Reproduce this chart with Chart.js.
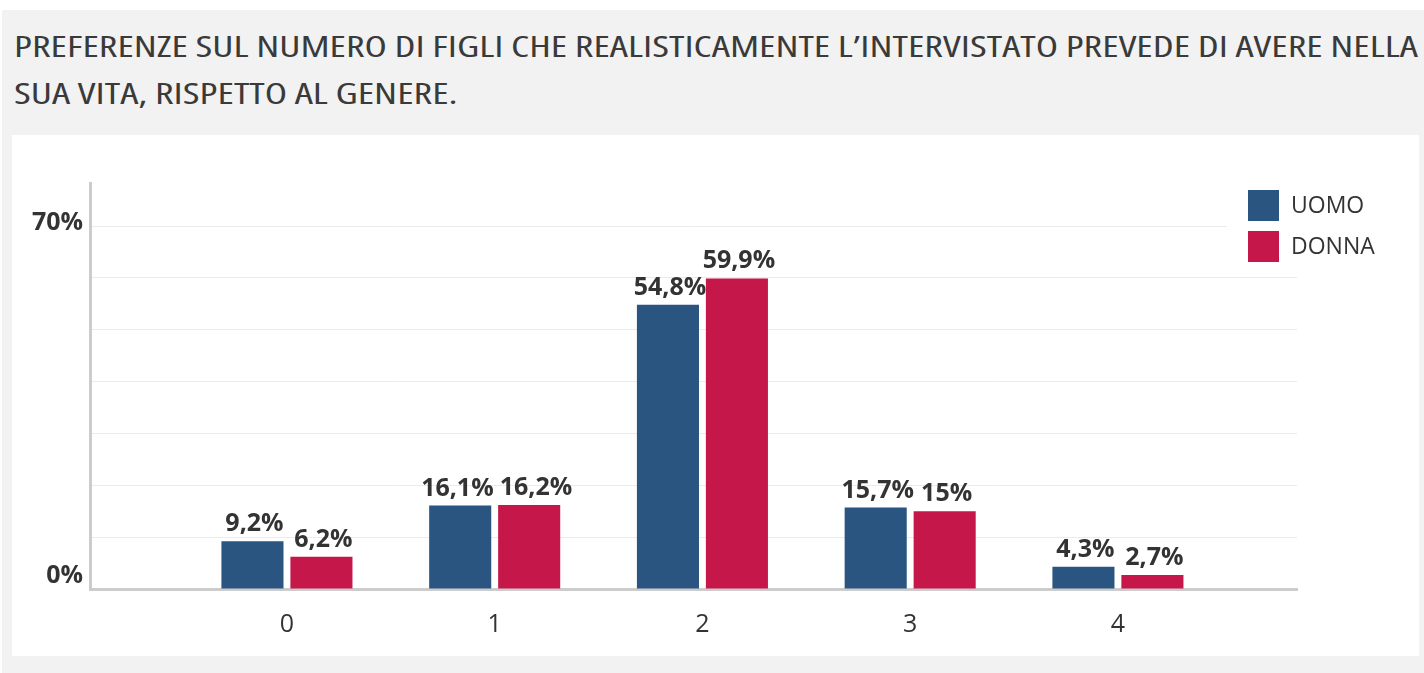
<!DOCTYPE html>
<html>
<head>
<meta charset="utf-8">
<script src="https://cdn.jsdelivr.net/npm/chart.js@4.4.0/dist/chart.umd.min.js"></script>
<style>
  body { margin: 0; background: #fff; width: 1424px; height: 673px; overflow: hidden; font-family: 'Open Sans', sans-serif; }
  #panel { position: absolute; left: 2px; top: 10px; width: 1422px; height: 663px; background: #f2f2f2; }
  .title { position: absolute; left: 14px; white-space: nowrap; color: #3a3a3a; font-size: 29px; font-stretch: 75%; line-height: 1; transform-origin: 0 0; }
  #box { position: absolute; left: 12px; top: 135px; width: 1407px; height: 521px; background: #fff; }
</style>
</head>
<body>
<div id="panel"></div>
<div class="title" id="t1" style="top:31px">PREFERENZE SUL NUMERO DI FIGLI CHE REALISTICAMENTE L’INTERVISTATO PREVEDE DI AVERE NELLA</div>
<div class="title" id="t2" style="top:78px">SUA VITA, RISPETTO AL GENERE.</div>
<div id="box"><canvas id="chart" width="1407" height="521"></canvas></div>
<script>
const categories = [0, 1, 2, 3, 4];
const uomo = [9.2, 16.1, 54.8, 15.7, 4.3];
const donna = [6.2, 16.2, 59.9, 15, 2.7];
const seriesNames = ['UOMO', 'DONNA'];
const yTicks = [0, 10, 20, 30, 40, 50, 60, 70];
const yLabeled = [0, 70];

// squeeze title so the first line fills the width
const t1 = document.getElementById('t1');
const t2 = document.getElementById('t2');
const k = 1404 / t1.getBoundingClientRect().width;
t1.style.transform = 'scaleX(' + k + ')';
t2.style.transform = 'scaleX(' + k + ')';

function pct(v) {
    return String(v).replace('.', ',') + '%';
}

const valueLabels = {
    id: 'valueLabels',
    afterDatasetsDraw(chart) {
        const ctx = chart.ctx;
        ctx.save();
        ctx.font = 'bold 25px "Open Sans"';
        ctx.fillStyle = '#333';
        ctx.textAlign = 'center';
        ctx.textBaseline = 'alphabetic';
        const left = chart.getDatasetMeta(0).data;
        const right = chart.getDatasetMeta(1).data;
        categories.forEach((c, i) => {
            const a = { text: pct(chart.data.datasets[0].data[i].y), x: left[i].x + 2, y: left[i].y - 10 };
            const b = { text: pct(chart.data.datasets[1].data[i].y), x: right[i].x + 2, y: right[i].y - 10 };
            // push the two labels apart when they collide
            if (Math.abs(a.y - b.y) < 24) {
                const over = (a.x + ctx.measureText(a.text).width / 2 + 6) - (b.x - ctx.measureText(b.text).width / 2);
                if (over > 0) {
                    a.x -= over / 2;
                    b.x += over / 2;
                }
            }
            ctx.fillText(a.text, a.x, a.y);
            ctx.fillText(b.text, b.x, b.y);
        });
        ctx.restore();
    }
};

const boxLegend = {
    id: 'boxLegend',
    afterDraw(chart) {
        const ctx = chart.ctx;
        const a = chart.chartArea;
        ctx.save();
        ctx.fillStyle = '#fff';
        ctx.fillRect(a.right - 70, a.top - 5, 130, 92);
        ctx.font = '23px "Open Sans"';
        ctx.textBaseline = 'middle';
        ctx.textAlign = 'left';
        chart.data.datasets.forEach((ds, i) => {
            const y = a.top + 7 + i * 41;
            ctx.fillStyle = ds.backgroundColor;
            ctx.fillRect(a.right - 49, y, 31, 31);
            ctx.fillStyle = '#333';
            ctx.fillText(ds.label, a.right - 6, y + 16);
        });
        ctx.restore();
    }
};

const ctx = document.getElementById('chart').getContext('2d');
new Chart(ctx, {
    type: 'bar',
    data: {
        datasets: [{
            label: seriesNames[0],
            data: uomo.map((v, i) => ({ x: categories[i], y: v })),
            backgroundColor: '#2a5580'
        }, {
            label: seriesNames[1],
            data: donna.map((v, i) => ({ x: categories[i], y: v })),
            backgroundColor: '#c6174a'
        }]
    },
    options: {
        responsive: false,
        animation: false,
        devicePixelRatio: 1,
        layout: { padding: { top: 48, right: 122, left: 0, bottom: 0 } },
        datasets: { bar: { categoryPercentage: 0.664, barPercentage: 0.9 } },
        plugins: {
            legend: { display: false },
            tooltip: { enabled: false }
        },
        scales: {
            x: {
                type: 'linear',
                offset: false,
                min: -0.948,
                max: 4.862,
                grid: { display: false, drawTicks: false, offset: false },
                border: { display: true, color: '#cccccc', width: 3 },
                ticks: {
                    color: '#333',
                    padding: 21,
                    font: { family: 'Open Sans', size: 25 },
                    callback: v => String(v)
                },
                afterBuildTicks: s => { s.ticks = categories.map(v => ({ value: v })); },
                afterFit: s => { s.height = 67; }
            },
            y: {
                min: 0,
                max: 78.3,
                grid: { color: '#ebebeb', lineWidth: 1, drawTicks: false },
                border: { color: '#cccccc', width: 3 },
                ticks: {
                    color: '#333',
                    padding: 7,
                    labelOffset: -3,
                    font: { family: 'Open Sans', size: 25, weight: 'bold', lineHeight: 0.8 },
                    callback: v => {
                        if (!yLabeled.includes(v)) return '';
                        return v === 0 ? ['0%', ''] : v + '%';
                    }
                },
                afterBuildTicks: s => { s.ticks = yTicks.map(v => ({ value: v })); },
                afterFit: s => { s.width = 78; }
            }
        }
    },
    plugins: [valueLabels, boxLegend]
});
</script>
</body>
</html>
